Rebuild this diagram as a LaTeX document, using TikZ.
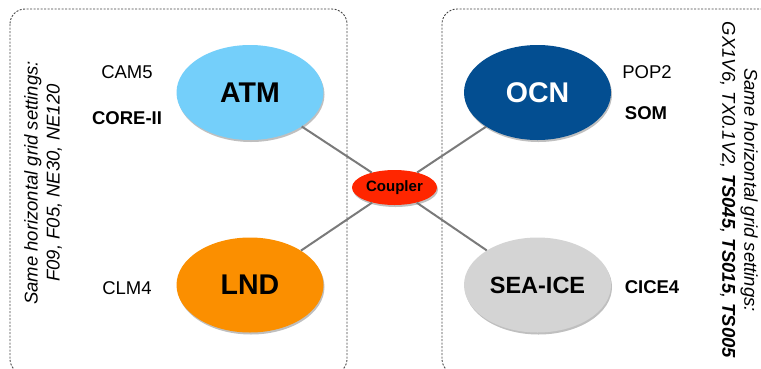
\documentclass[tikz,border=0pt]{standalone}
\usepackage{fontspec}
\setmainfont{Liberation Sans}
\usetikzlibrary{shapes.geometric,shadows}
\definecolor{atmc}{HTML}{74CFFA}
\definecolor{ocnc}{HTML}{034E91}
\definecolor{lndc}{HTML}{FB8F00}
\definecolor{icec}{HTML}{D4D4D4}
\definecolor{cplc}{HTML}{FF2600}
\definecolor{linkc}{HTML}{7A7A7A}
\definecolor{boxc}{HTML}{444444}
\tikzset{
  comp/.style={ellipse, inner sep=0pt, minimum width=147pt, minimum height=95pt,
    font=\fontsize{28.5}{32}\selectfont\bfseries,
    drop shadow={shadow xshift=1pt, shadow yshift=-2pt, opacity=0.25, fill=black}},
  cpl/.style={ellipse, inner sep=0pt, minimum width=85pt, minimum height=35pt, fill=cplc,
    font=\fontsize{15}{18}\selectfont\bfseries,
    drop shadow={shadow xshift=1pt, shadow yshift=-2pt, opacity=0.25, fill=black}},
  lbl/.style={font=\fontsize{18.5}{22}\selectfont, inner sep=0pt},
  blbl/.style={lbl, font=\fontsize{18.5}{22}\selectfont\bfseries},
  side/.style={font=\fontsize{18.5}{22}\selectfont\itshape, align=center, inner sep=0pt},
  group/.style={draw=boxc, line width=0.9pt, dash pattern=on 2pt off 1.5pt, rounded corners=15pt},
  link/.style={draw=linkc, line width=2pt}
}
\begin{document}
\begin{tikzpicture}[x=1pt,y=-1pt]
\useasboundingbox (0,0) rectangle (761,368);
\clip (0,0) rectangle (761,368);
% group boxes
\draw[group] (10,9) rectangle (347,374);
\draw[group] (442,9) rectangle (790,374);
% components
\node[comp, fill=atmc] (atm) at (250,92.5) {ATM};
\node[comp, fill=lndc] (lnd) at (250,285) {LND};
\node[comp, fill=ocnc, text=white] (ocn) at (537.5,92.5) {OCN};
\node[comp, fill=icec, font=\fontsize{23.5}{28}\selectfont\bfseries] (ice) at (537.5,285) {SEA-ICE};
\node[cpl] (cpl) at (394.5,187.5) {Coupler};
% connectors
\draw[link] (atm) -- (cpl);
\draw[link] (lnd) -- (cpl);
\draw[link] (ocn) -- (cpl);
\draw[link] (ice) -- (cpl);
% labels
\node[lbl] (cam) at (127,72) {CAM5};
\node[blbl] (core) at (127,118) {CORE-II};
\node[lbl] (clm) at (127,288) {CLM4};
\node[lbl] (pop) at (647,72) {POP2};
\node[blbl] (som) at (646,113) {SOM};
\node[blbl] (cice) at (652,287) {CICE4};
% side texts
\node[side, rotate=90] (lside) at (43,183) {Same horizontal grid settings:\\F09, F05, NE30, NE120};
\node[side, rotate=-90] (rside) at (739,190) {Same horizontal grid settings:\\GX1V6, TX0.1V2, \textbf{TS045}, \textbf{TS015}, \textbf{TS005}};
\end{tikzpicture}
\end{document}
